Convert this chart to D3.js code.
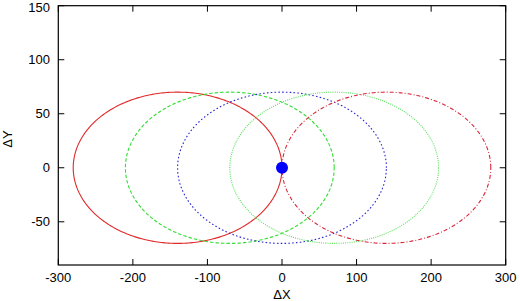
<!DOCTYPE html>
<html><head><meta charset="utf-8">
<script src="https://cdn.jsdelivr.net/npm/d3@7"></script>
<style>body{margin:0;background:#fff}svg{display:block}text{font-family:"Liberation Sans",Arial,sans-serif;font-size:13px;fill:#000}</style>
</head><body><svg id="c" width="520" height="301"></svg>
<script>
const centersX = [-140, -70, 0, 70, 140];
const centersY = [0, 0, 0, 0, 0];
const radiiX = [140, 140, 140, 140, 140];
const radiiY = [70, 70, 70, 70, 70];
const colors = ["#e02a2a", "#33dd33", "#2a2ad0", "#55e055", "#d8283a"];
const dashes = [null, "3.5,2", "1.6,2.2", "1,1.2", "4,2,1,2"];
const xTicks = [-300, -200, -100, 0, 100, 200, 300];
const yTicks = [-50, 0, 50, 100, 150];
const pointX = [0], pointY = [0];

const svg = d3.select("#c");
const L = 58.3, R = 505.7, T = 5.7, B = 265;
const x = d3.scaleLinear().domain([-300, 300]).range([L, R]);
const y = d3.scaleLinear().domain([-90, 150]).range([B, T]);

const g = svg.append("g");
const N = 360;
centersX.forEach((cx, i) => {
  const pts = d3.range(N + 1).map(k => {
    const t = 2 * Math.PI * k / N;
    return [cx + radiiX[i] * Math.cos(t), centersY[i] + radiiY[i] * Math.sin(t)];
  });
  g.append("path")
    .attr("d", d3.line().x(d => x(d[0])).y(d => y(d[1]))(pts))
    .attr("fill", "none").attr("stroke", colors[i]).attr("stroke-width", 1.1)
    .attr("stroke-dasharray", dashes[i]);
});
pointX.forEach((px, i) => {
  g.append("circle").attr("cx", x(px)).attr("cy", y(pointY[i])).attr("r", 6).attr("fill", "#0000ff");
});

// frame
svg.append("rect").attr("x", L).attr("y", T).attr("width", R - L).attr("height", B - T)
  .attr("fill", "none").attr("stroke", "#000").attr("stroke-width", 1.2);

const tl = 6;
xTicks.forEach(v => {
  svg.append("line").attr("x1", x(v)).attr("x2", x(v)).attr("y1", B).attr("y2", B - tl).attr("stroke", "#000");
  svg.append("line").attr("x1", x(v)).attr("x2", x(v)).attr("y1", T).attr("y2", T + tl).attr("stroke", "#000");
  svg.append("text").attr("x", x(v)).attr("y", 282).attr("text-anchor", "middle").text(v);
});
yTicks.forEach(v => {
  svg.append("line").attr("x1", L).attr("x2", L + tl).attr("y1", y(v)).attr("y2", y(v)).attr("stroke", "#000");
  svg.append("line").attr("x1", R).attr("x2", R - tl).attr("y1", y(v)).attr("y2", y(v)).attr("stroke", "#000");
  svg.append("text").attr("x", 50).attr("y", Math.max(y(v), 7.5)).attr("dy", "0.35em").attr("text-anchor", "end").text(v);
});
svg.append("text").attr("x", x(0)).attr("y", 299).attr("text-anchor", "middle").text("ΔX");
svg.append("text").attr("transform", "translate(12,139) rotate(-90)").attr("text-anchor", "middle").text("ΔY");
</script></body></html>
